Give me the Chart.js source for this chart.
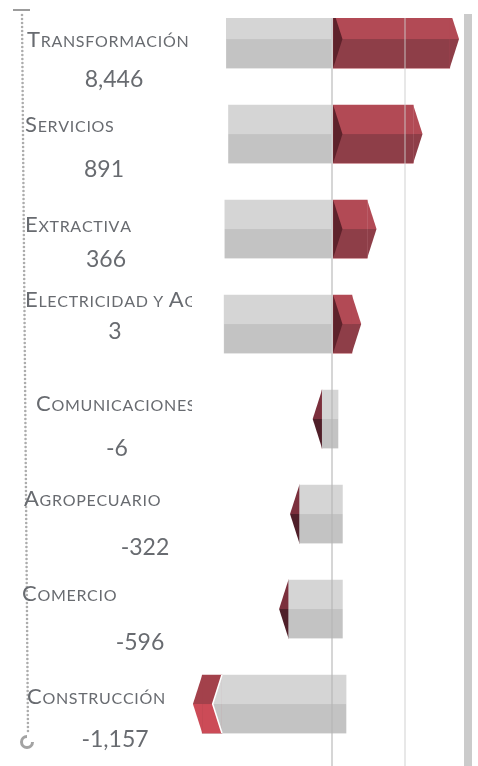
<!DOCTYPE html>
<html>
<head>
<meta charset="utf-8">
<script src="https://cdn.jsdelivr.net/npm/chart.js@4.4.1/dist/chart.umd.min.js"></script>
<style>
html, body { margin: 0; padding: 0; background: #fff; }
#wrap { position: relative; width: 478px; height: 766px; }
</style>
</head>
<body>
<div id="wrap"><canvas id="chart_sectores" width="478" height="766"></canvas></div>
<script>
var sectores = ['Transformación', 'Servicios', 'Extractiva', 'Electricidad y Agua',
    'Comunicaciones y Transportes', 'Agropecuario', 'Comercio', 'Construcción'];
var variacion = [8446, 891, 366, 3, -6, -322, -596, -1157];
// extents of the drawn bars, in axis units (0 = centre line)
var grisDesde = [-145, -142, -147, -148, -14, -45, -60, -151];
var grisHasta = [0, 0, 0, 0, 8, 14, 14, 19];
var rojoDesde = [0, 0, 0, 0, -14, -45, -60, -178];
var rojoHasta = [161, 111, 48, 27, -14, -45, -60, -151];

// label placement: [name x, name dy, value centre x, value dy]
var posRotulo = [[27, 8, 114, 48], [25, -2, 104, 43], [25, 3, 106, 38], [25, -17, 115, 15],
    [36, -8, 117, 37], [24, -8, 145, 41], [22, -8, 140, 41], [27, 0, 115, 43]];

var TEXTO = '#686b70';
var FUENTE = 'Lato, "Open Sans", sans-serif';

function versalitas(ctx, txt, x, y) {
    for (var k = 0; k < txt.length; k++) {
        var ch = txt[k];
        var mayus = ch !== ' ' && ch === ch.toUpperCase();
        ctx.font = (mayus ? '22px ' : '16px ') + FUENTE;
        var c = ch.toUpperCase();
        ctx.fillText(c, x, y);
        x += ctx.measureText(c).width + 0.7;
    }
}

var relieve = {
    id: 'relieve',
    afterDatasetsDraw: function (chart) {
        var ctx = chart.ctx, a = chart.chartArea;
        ctx.save();
        ctx.beginPath();
        ctx.rect(a.left, a.top, a.right - a.left, a.bottom - a.top);
        ctx.clip();
        // grey blocks: darker lower face
        chart.getDatasetMeta(0).data.forEach(function (bar) {
            var izq = Math.min(bar.x, bar.base), der = Math.max(bar.x, bar.base);
            ctx.fillStyle = '#c3c3c3';
            ctx.fillRect(izq, bar.y, der - izq, bar.height / 2);
        });
        // red arrows
        chart.getDatasetMeta(1).data.forEach(function (bar, i) {
            var izq = Math.min(bar.x, bar.base), der = Math.max(bar.x, bar.base);
            var h = bar.height, top = bar.y - h / 2, mid = bar.y, bot = bar.y + h / 2;
            var tw = h * 0.16;
            if (variacion[i] >= 0) {
                ctx.fillStyle = '#8e3e48';
                ctx.fillRect(izq, mid, der - izq, h / 2);
                ctx.fillStyle = '#b24a55';
                ctx.beginPath(); ctx.moveTo(der, top); ctx.lineTo(der + tw, mid); ctx.lineTo(der, mid); ctx.fill();
                ctx.fillStyle = '#8e3e48';
                ctx.beginPath(); ctx.moveTo(der, mid); ctx.lineTo(der + tw, mid); ctx.lineTo(der, bot); ctx.fill();
                ctx.fillStyle = '#5e222b';
                ctx.beginPath(); ctx.moveTo(izq, top); ctx.lineTo(izq + tw, mid); ctx.lineTo(izq, bot); ctx.fill();
            } else if (der - izq < 1) {
                ctx.fillStyle = '#7b2f3c';
                ctx.beginPath(); ctx.moveTo(izq, top); ctx.lineTo(izq - tw, mid); ctx.lineTo(izq, mid); ctx.fill();
                ctx.fillStyle = '#4f1f29';
                ctx.beginPath(); ctx.moveTo(izq, mid); ctx.lineTo(izq - tw, mid); ctx.lineTo(izq, bot); ctx.fill();
            } else {
                ctx.fillStyle = '#cc4b57';
                ctx.fillRect(izq, mid, der - izq, h / 2);
                ctx.fillStyle = '#a3414b';
                ctx.beginPath(); ctx.moveTo(izq, top); ctx.lineTo(izq - tw, mid); ctx.lineTo(izq, mid); ctx.fill();
                ctx.fillStyle = '#cc4b57';
                ctx.beginPath(); ctx.moveTo(izq, mid); ctx.lineTo(izq - tw, mid); ctx.lineTo(izq, bot); ctx.fill();
                // grey block nests into the notch
                ctx.fillStyle = '#d5d5d5';
                ctx.beginPath(); ctx.moveTo(der, top); ctx.lineTo(der - tw, mid); ctx.lineTo(der, mid); ctx.fill();
                ctx.fillStyle = '#c3c3c3';
                ctx.beginPath(); ctx.moveTo(der, mid); ctx.lineTo(der - tw, mid); ctx.lineTo(der, bot); ctx.fill();
                ctx.strokeStyle = '#ffffff';
                ctx.lineWidth = 1.5;
                ctx.beginPath(); ctx.moveTo(der, top); ctx.lineTo(der - tw, mid); ctx.lineTo(der, bot); ctx.stroke();
            }
        });
        ctx.restore();
    }
};

var rotulos = {
    id: 'rotulos',
    afterDraw: function (chart) {
        var ctx = chart.ctx, ys = chart.scales.y;
        ctx.save();
        // dotted guide on the left
        ctx.fillStyle = '#9c9c9c';
        ctx.fillRect(13, 9, 17, 2);
        ctx.fillStyle = '#acacac';
        for (var t = 15; t <= 734; t += 4) {
            ctx.beginPath();
            ctx.arc(22 + (t - 15) / 719 * 6, t, 1.3, 0, Math.PI * 2);
            ctx.fill();
        }
        ctx.strokeStyle = '#a3a3a3';
        ctx.lineWidth = 3;
        ctx.beginPath();
        ctx.arc(27, 742, 5.5, 0, Math.PI * 1.5);
        ctx.stroke();

        ctx.fillStyle = TEXTO;
        ctx.textBaseline = 'alphabetic';
        sectores.forEach(function (nombre, i) {
            var cy = ys.getPixelForValue(i), p = posRotulo[i];
            ctx.save();
            ctx.beginPath();
            ctx.rect(0, 0, chart.chartArea.left, chart.height);
            ctx.clip();
            ctx.textAlign = 'left';
            versalitas(ctx, nombre, p[0], cy + p[1]);
            ctx.restore();
            ctx.font = '23px ' + FUENTE;
            ctx.textAlign = 'center';
            ctx.fillText(variacion[i].toLocaleString('en-US'), p[2], cy + p[3]);
        });
        ctx.restore();
    }
};

var ctx = document.getElementById('chart_sectores').getContext('2d');
var chart = new Chart(ctx, {
    type: 'bar',
    data: {
        datasets: [{
            label: 'base',
            backgroundColor: '#d5d5d5',
            data: sectores.map(function (s, i) { return { x: [grisDesde[i], grisHasta[i]], y: i }; })
        }, {
            label: 'variación',
            backgroundColor: function (c) { return variacion[c.dataIndex] < 0 ? '#a3414b' : '#b24a55'; },
            data: sectores.map(function (s, i) { return { x: [rojoDesde[i], rojoHasta[i]], y: i }; })
        }]
    },
    options: {
        indexAxis: 'y',
        responsive: false,
        animation: false,
        maintainAspectRatio: false,
        layout: { padding: { left: 192, top: 18, right: 10, bottom: 0 } },
        datasets: { bar: { grouped: false, barThickness: 58, borderWidth: 0 } },
        plugins: { legend: { display: false }, tooltip: { enabled: false } },
        scales: {
            x: {
                type: 'linear',
                min: -192, max: 186,
                ticks: { display: false, stepSize: 100 },
                border: { display: false },
                grid: {
                    drawTicks: false, z: 1, lineWidth: 2,
                    color: function (c) {
                        if (c.tick && c.tick.value === 0) return 'rgba(180,180,180,0.55)';
                        if (c.tick && c.tick.value === 100) return 'rgba(205,205,205,0.45)';
                        return 'rgba(0,0,0,0)';
                    }
                }
            },
            y: {
                type: 'linear',
                position: 'right',
                reverse: true,
                offset: false,
                min: -0.222, max: 7.652,
                ticks: { display: false },
                grid: { display: false, drawTicks: false, offset: false },
                border: { display: true, color: '#cbcbcb', width: 8 }
            }
        }
    },
    plugins: [relieve, rotulos]
});
</script>
</body>
</html>
